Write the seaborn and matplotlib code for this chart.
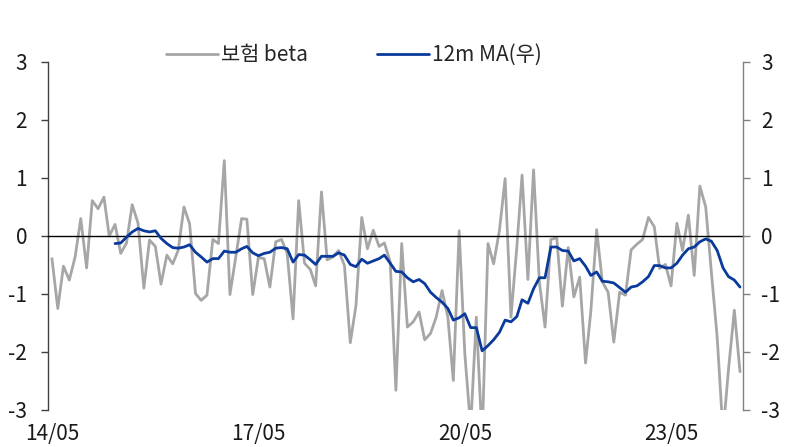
import numpy as np
import pandas as pd
import matplotlib
matplotlib.use("Agg")
import matplotlib.pyplot as plt
import matplotlib.dates as mdates
import seaborn as sns

# ---- data ----
start_month = "2014-05-01"
beta = [
    -0.39, -1.25, -0.52, -0.76, -0.36, 0.30, -0.55, 0.61, 0.47, 0.67,
    0.00, 0.20, -0.30, -0.12, 0.54, 0.22, -0.90, -0.07, -0.18, -0.83,
    -0.33, -0.48, -0.25, 0.50, 0.21, -0.99, -1.11, -1.02, -0.06, -0.13,
    1.30, -1.01, -0.36, 0.30, 0.29, -1.01, -0.37, -0.39, -0.88, -0.10,
    -0.06, -0.30, -1.43, 0.61, -0.47, -0.58, -0.86, 0.76, -0.41, -0.36,
    -0.25, -0.51, -1.84, -1.20, 0.32, -0.22, 0.10, -0.18, -0.12, -0.45,
    -2.66, -0.13, -1.57, -1.48, -1.31, -1.79, -1.68, -1.40, -0.94, -1.40,
    -2.49, 0.09, -2.03, -3.30, -1.40, -3.50, -0.13, -0.48, 0.10, 0.99,
    -1.40, -0.20, 1.05, -0.75, 1.14, -0.80, -1.57, -0.06, -0.03, -1.21,
    -0.20, -1.05, -0.71, -2.19, -1.30, 0.11, -0.79, -0.97, -1.83, -0.97,
    -1.02, -0.24, -0.14, -0.06, 0.32, 0.16, -0.56, -0.49, -0.86, 0.22,
    -0.25, 0.36, -0.68, 0.86, 0.50, -0.62, -1.75, -3.40, -2.30, -1.28,
    -2.34,
]
ma_start_offset = 11  # 12m MA starts on the 12th month
ma12 = [
    -0.13, -0.12, -0.02, 0.07, 0.13, 0.09, 0.07, 0.09, -0.04, -0.13,
    -0.20, -0.21, -0.19, -0.15, -0.28, -0.36, -0.45, -0.39, -0.39, -0.26,
    -0.28, -0.28, -0.22, -0.18, -0.29, -0.34, -0.30, -0.28, -0.21, -0.20,
    -0.22, -0.45, -0.32, -0.33, -0.41, -0.49, -0.35, -0.35, -0.35, -0.29,
    -0.33, -0.49, -0.53, -0.40, -0.47, -0.43, -0.39, -0.33, -0.47, -0.61,
    -0.62, -0.72, -0.79, -0.75, -0.82, -0.97, -1.06, -1.14, -1.25, -1.45,
    -1.41, -1.34, -1.58, -1.58, -1.98, -1.89, -1.79, -1.66, -1.45, -1.48,
    -1.39, -1.10, -1.16, -0.91, -0.72, -0.72, -0.19, -0.19, -0.25, -0.26,
    -0.43, -0.39, -0.52, -0.68, -0.62, -0.78, -0.79, -0.81, -0.89, -0.97,
    -0.88, -0.86, -0.79, -0.70, -0.51, -0.51, -0.55, -0.55, -0.47, -0.33,
    -0.22, -0.19, -0.10, -0.05, -0.09, -0.25, -0.55, -0.70, -0.76, -0.88,
]
tick_dates = ["2014-05-01", "2017-05-01", "2020-05-01", "2023-05-01"]
tick_labels = ["14/05", "17/05", "20/05", "23/05"]
y_ticks = [3, 2, 1, 0, -1, -2, -3]
y_tick_labels = ["3", "2", "1", "0", "-1", "-2", "-3"]
series_names = ["보험 beta", "12m MA(우)"]

dates = pd.date_range(start_month, periods=len(beta), freq="MS")
df_beta = pd.DataFrame({"date": dates, "value": beta})
df_ma = pd.DataFrame({"date": dates[ma_start_offset:ma_start_offset + len(ma12)], "value": ma12})

# ---- style ----
sns.set_theme(style="white")
plt.rcParams["font.family"] = ["Noto Sans CJK KR", "DejaVu Sans"]
plt.rcParams["axes.unicode_minus"] = False

GRAY = "#A6A6A6"
BLUE = "#0A3A9C"
FS = 15

fig = plt.figure(figsize=(7.85, 4.47), dpi=100)
ax = fig.add_axes([48 / 785, 1 - 410 / 447, (743 - 48) / 785, 348 / 447])
ax2 = ax.twinx()

sns.lineplot(data=df_beta, x="date", y="value", ax=ax, color=GRAY, linewidth=2.0,
             label=series_names[0], legend=False)
sns.lineplot(data=df_ma, x="date", y="value", ax=ax2, color=BLUE, linewidth=2.0,
             label=series_names[1], legend=False)

for a in (ax, ax2):
    a.set_ylim(-3, 3)
    a.set_yticks(y_ticks)
    a.set_yticklabels(y_tick_labels, fontsize=FS, color="#1a1a1a")
    a.set_xlabel("")
    a.set_ylabel("")
    a.spines["top"].set_visible(False)
    a.patch.set_visible(False)

x0 = pd.Timestamp(start_month) - pd.Timedelta(days=21)
x1 = dates[-1] + pd.Timedelta(days=16)
ax.set_xlim(x0, x1)

ax.spines["left"].set_color("#404040")
ax.spines["left"].set_linewidth(1.0)
ax.spines["right"].set_visible(False)
ax2.spines["left"].set_visible(False)
ax2.spines["bottom"].set_visible(False)
ax2.spines["right"].set_color("#808080")
ax2.spines["right"].set_linewidth(1.0)

# zero line as the x-axis spine, labels placed at bottom via pad
ax.spines["bottom"].set_position(("data", 0))
ax.spines["bottom"].set_color("black")
ax.spines["bottom"].set_linewidth(1.0)

ax.set_xticks(pd.to_datetime(tick_dates))
ax.set_xticklabels(tick_labels, fontsize=FS, color="#1a1a1a")
ax.tick_params(axis="x", direction="out", length=4, width=1, color="#606060", pad=131)
ax.tick_params(axis="y", left=True, direction="out", length=5, width=1, color="#404040", pad=10)
ax2.tick_params(axis="y", right=True, direction="out", length=5, width=1, color="#808080", pad=8)

ax.set_zorder(ax2.get_zorder() - 1)
ax2.set_zorder(1)

h1, l1 = ax.get_legend_handles_labels()
h2, l2 = ax2.get_legend_handles_labels()
fig.legend(h1 + h2, l1 + l2, loc="center", bbox_to_anchor=(354 / 785, 1 - 55 / 447),
           ncol=2, frameon=False, fontsize=FS, handlelength=2.5, handletextpad=0.15,
           columnspacing=3.3)

fig.savefig("out.png", dpi=100)
